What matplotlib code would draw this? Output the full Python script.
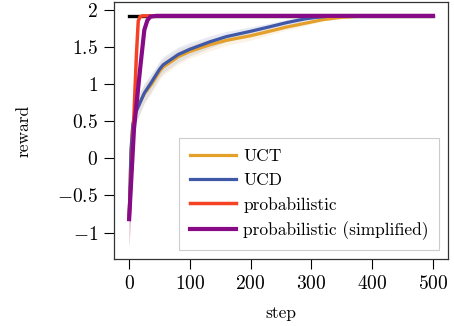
import numpy as np
import matplotlib.pyplot as plt

# Computer Modern look, like the LaTeX figure
plt.rcParams['font.family'] = 'serif'
plt.rcParams['font.serif'] = ['cmr10', 'DejaVu Serif']
plt.rcParams['mathtext.fontset'] = 'cm'
plt.rcParams['axes.formatter.use_mathtext'] = True

# mean reward per step
uct_steps = [0, 3, 6, 10, 18, 25, 37, 50, 56, 81, 100, 133, 160, 199, 230, 260, 290, 320, 350, 370, 400, 500]
uct_mean = [-0.82, 0.1, 0.45, 0.62, 0.76, 0.87, 1.0, 1.17, 1.23, 1.37, 1.44, 1.53, 1.59, 1.65, 1.71, 1.77, 1.82, 1.87, 1.90, 1.91, 1.92, 1.92]
uct_std = [0.38, 0.22, 0.17, 0.15, 0.14, 0.13, 0.12, 0.11, 0.11, 0.1, 0.09, 0.08, 0.07, 0.06, 0.05, 0.04, 0.03, 0.02, 0.01, 0.005, 0.0, 0.0]

ucd_steps = [0, 3, 6, 10, 18, 25, 37, 50, 56, 81, 100, 133, 160, 199, 230, 260, 290, 309, 330, 350, 500]
ucd_mean = [-0.82, 0.1, 0.45, 0.6, 0.75, 0.88, 1.03, 1.2, 1.26, 1.40, 1.47, 1.57, 1.64, 1.71, 1.77, 1.83, 1.88, 1.90, 1.915, 1.92, 1.92]
ucd_std = [0.38, 0.22, 0.17, 0.15, 0.14, 0.13, 0.12, 0.11, 0.11, 0.1, 0.09, 0.08, 0.07, 0.06, 0.05, 0.04, 0.03, 0.02, 0.01, 0.0, 0.0]

prob_steps = [0, 7, 12, 15, 18, 22, 500]
prob_mean = [-0.82, 0.4, 1.4, 1.85, 1.91, 1.92, 1.92]
prob_std = [0.38, 0.1, 0.05, 0.02, 0.0, 0.0, 0.0]

simp_steps = [0, 8, 18, 25, 30, 35, 45, 500]
simp_mean = [-0.82, 0.4, 1.2, 1.73, 1.86, 1.91, 1.92, 1.92]
simp_std = [0.38, 0.1, 0.05, 0.02, 0.01, 0.0, 0.0, 0.0]

optimal = 1.92

fig = plt.figure(figsize=(4.54, 3.26), dpi=100)
ax = fig.add_axes([0.251, 0.2055, 0.736, 0.7885])

ax.plot([0, 500], [optimal, optimal], color='black', lw=2.4)

series = [
    (uct_steps, uct_mean, uct_std, '#e5a02a', 'UCT', 2.3, 0.12),
    (ucd_steps, ucd_mean, ucd_std, '#4058a8', 'UCD', 2.3, 0.12),
    (prob_steps, prob_mean, prob_std, '#f54225', 'probabilistic', 2.5, 0.2),
    (simp_steps, simp_mean, simp_std, '#870a87', 'probabilistic (simplified)', 3.0, 0.2),
]

for steps, mean, std, col, lab, lw, a in series:
    m = np.array(mean)
    s = np.array(std)
    ax.fill_between(steps, m - s, m + s, color=col, alpha=a, lw=0)
    ax.plot(steps, m, color=col, lw=lw, label=lab)

ax.set_xlim(-25, 525)
ax.set_ylim(-1.357, 2.107)
ax.set_xticks([0, 100, 200, 300, 400, 500])
ax.set_yticks([-1, -0.5, 0, 0.5, 1, 1.5, 2])
ax.set_yticklabels(['$-1$', '$-0.5$', '$0$', '$0.5$', '$1$', '$1.5$', '$2$'])
ax.set_xticklabels(['$0$', '$100$', '$200$', '$300$', '$400$', '$500$'])
ax.tick_params(labelsize=14, length=7.5, width=0.8, pad=4)
for sp in ax.spines.values():
    sp.set_linewidth(0.9)
    sp.set_color('#333333')

ax.set_xlabel('step', fontsize=12.5, labelpad=9)
ax.set_ylabel('reward', fontsize=12.5, labelpad=18)

leg = ax.legend(loc='lower right', fontsize=12.5, fancybox=False, framealpha=1,
                edgecolor='#cccccc', handlelength=2.7, handletextpad=0.4,
                labelspacing=0.5, borderpad=0.6, borderaxespad=0.5)
leg.get_frame().set_linewidth(0.8)

fig.savefig('out.png', dpi=100)
